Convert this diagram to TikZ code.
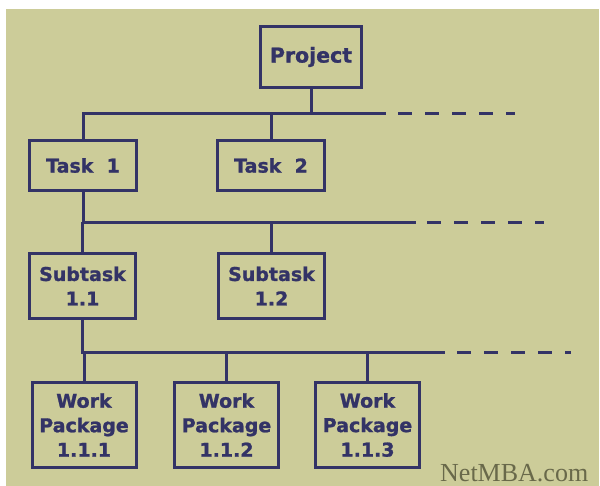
\documentclass[tikz,border=0pt]{standalone}
\usepackage{fontspec}
\setmainfont{DejaVu Sans}
\newfontfamily\boxfont{DejaVu Sans Bold}[FakeBold=1.2]
\newfontfamily\wmfont{Liberation Serif}
\definecolor{bgkhaki}{HTML}{CCCC99}
\definecolor{navy}{HTML}{333366}
\definecolor{wmcol}{HTML}{69694A}
\begin{document}
\begin{tikzpicture}[x=1pt,y=-1pt,
  box/.style={draw=navy, line width=3pt, text=navy, align=center,
    font=\boxfont\fontsize{19}{24.5}\selectfont, inner sep=0pt, outer sep=0pt},
  tbox/.style={box, minimum width=107pt, minimum height=50pt},
  sbox/.style={box, minimum width=106pt, minimum height=65pt},
  wbox/.style={box, minimum width=104pt, minimum height=85pt},
  conn/.style={draw=navy, line width=3pt, line cap=butt, line join=miter},
  more/.style={conn, dash pattern=on 14pt off 13pt}
]
\fill[white] (0,0) rectangle (600,486);
\useasboundingbox (0,0) rectangle (600,486);
\fill[bgkhaki] (6,9) rectangle (599,486);

% nodes
\node[box, minimum width=101pt, minimum height=61pt, font=\boxfont\fontsize{20.5}{24.5}\selectfont] (project) at (311,57) {Project};
\node[tbox] (task1) at (83,165.5) {Task\ \ 1};
\node[tbox] (task2) at (271,165.5) {Task\ \ 2};
\node[sbox] (sub1) at (82.5,286) {Subtask\\1.1};
\node[sbox] (sub2) at (271.5,286) {Subtask\\1.2};
\node[wbox] (wp1) at (84,425) {Work\\Package\\1.1.1};
\node[wbox] (wp2) at (226.5,425) {Work\\Package\\1.1.2};
\node[wbox] (wp3) at (367.5,425) {Work\\Package\\1.1.3};
\node[anchor=base west, text=wmcol, font=\wmfont\fontsize{26}{26}\selectfont, inner sep=0pt] (credit) at (440,481) {NetMBA.com};

% bus coordinates
\coordinate (b1e) at (386,114);
\coordinate (b1d) at (398,114);
\coordinate (b1f) at (515,114);
\coordinate (b2e) at (416,222.5);
\coordinate (b2d) at (427,222.5);
\coordinate (b2f) at (544,222.5);
\coordinate (b3e) at (445,353);
\coordinate (b3d) at (457,353);
\coordinate (b3f) at (571,353);

% level 1
\draw[conn] (task1.north) |- (b1e);
\draw[conn] (project.south) -- (project.south |- b1e);
\draw[conn] (task2.north) -- (task2.north |- b1e);
\draw[more] (b1d) -- (b1f);
% level 2
\draw[conn] (task1.south) |- (b2e);
\draw[conn] (sub1.north) -- (sub1.north |- b2e);
\draw[conn] (sub2.north) -- (sub2.north |- b2e);
\draw[more] (b2d) -- (b2f);
% level 3
\draw[conn] (sub1.south) |- (b3e);
\draw[conn] (wp1.north) -- (wp1.north |- b3e);
\draw[conn] (wp2.north) -- (wp2.north |- b3e);
\draw[conn] (wp3.north) -- (wp3.north |- b3e);
\draw[more] (b3d) -- (b3f);
\end{tikzpicture}
\end{document}
